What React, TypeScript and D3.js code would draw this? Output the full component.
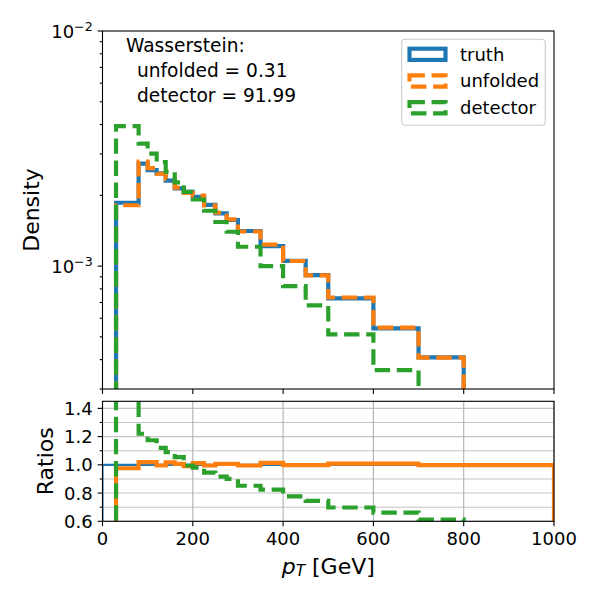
import React, { useEffect, useRef } from 'react';
import * as d3 from 'd3';

// bin edges of the pT histograms (GeV)
const binEdges = [30, 80, 100, 120, 140, 160, 180, 200, 225, 250, 275, 300, 350, 400, 450, 500, 600, 700, 800];

// densities
const truthDensity = [
  1.86e-3, 2.73e-3, 2.56e-3, 2.48e-3, 2.31e-3, 2.14e-3, 2.07e-3, 1.97e-3, 1.82e-3,
  1.675e-3, 1.57e-3, 1.41e-3, 1.216e-3, 1.053e-3, 0.915e-3, 0.729e-3, 0.543e-3, 0.409e-3,
];
const unfoldedDensity = [
  1.815e-3, 2.78e-3, 2.61e-3, 2.47e-3, 2.35e-3, 2.155e-3, 2.05e-3, 1.995e-3, 1.81e-3,
  1.687e-3, 1.58e-3, 1.403e-3, 1.233e-3, 1.051e-3, 0.913e-3, 0.735e-3, 0.547e-3, 0.408e-3,
];
const detectorDensity = [
  3.94e-3, 3.32e-3, 3.01e-3, 2.77e-3, 2.52e-3, 2.27e-3, 2.07e-3, 1.92e-3, 1.72e-3,
  1.54e-3, 1.4e-3, 1.208e-3, 1.0e-3, 0.822e-3, 0.68e-3, 0.512e-3, 0.361e-3, 0.25e-3,
];

// ratio panel uses the full range 0..1000
const ratioEdges = [0, 30, 80, 100, 120, 140, 160, 180, 200, 225, 250, 275, 300, 350, 400, 450, 500, 600, 700, 800, 1000];
const truthRatio = [1, 1, 1, 1, 1, 1, 1, 1, 1, 1, 1, 1, 1, 1, 1, 1, 1, 1, 1, 1];
const unfoldedRatio = [
  0, 0.976, 1.019, 1.019, 0.995, 1.017, 1.007, 0.99, 1.012, 0.995,
  1.007, 1.007, 0.995, 1.014, 0.998, 0.998, 1.008, 1.008, 0.998, 0.998,
];
const detectorRatio = [
  0, 2.12, 1.22, 1.174, 1.12, 1.09, 1.055, 0.995, 0.98, 0.945,
  0.917, 0.9, 0.852, 0.824, 0.776, 0.745, 0.698, 0.662, 0.612, 0.58,
];

// ticks
const xTicks = [0, 200, 400, 600, 800, 1000];
const densityMajorTicks = [1e-3, 1e-2];
const densityTickExponents = ['\u22123', '\u22122'];
const densityMinorTicks = [3e-4, 4e-4, 5e-4, 6e-4, 7e-4, 8e-4, 9e-4, 2e-3, 3e-3, 4e-3, 5e-3, 6e-3, 7e-3, 8e-3, 9e-3];
const ratioMajorTicks = [0.6, 0.8, 1.0, 1.2, 1.4];
const ratioMinorTicks = [0.7, 0.9, 1.1, 1.3];

const legendLabels = ['truth', 'unfolded', 'detector'];
const wassersteinLines = ['Wasserstein:', 'unfolded = 0.31', 'detector = 91.99'];

const BLUE = '#1f77b4';
const ORANGE = '#ff7f0e';
const GREEN = '#2ca02c';
const FONT = 'DejaVu Sans, sans-serif';

const App: React.FC = () => {
  const svgRef = useRef<SVGSVGElement>(null);

  useEffect(() => {
    if (!svgRef.current) return;
    const svg = d3.select(svgRef.current);
    svg.selectAll('*').remove();

    // panel geometry
    const left = 102.5;
    const right = 554;
    const mainTop = 31;
    const mainBottom = 389;
    const ratioTop = 401.3;
    const ratioBottom = 521.3;

    const x = d3.scaleLinear().domain([0, 1000]).range([left, right]);
    const yMain = d3.scaleLog().domain([3e-4, 1e-2]).range([mainBottom, mainTop]);
    const yRatio = d3.scaleLinear().domain([0.6, 1.45]).range([ratioBottom, ratioTop]);

    const defs = svg.append('defs');
    defs
      .append('clipPath')
      .attr('id', 'clip-main')
      .append('rect')
      .attr('x', left)
      .attr('y', mainTop)
      .attr('width', right - left)
      .attr('height', mainBottom - mainTop);
    defs
      .append('clipPath')
      .attr('id', 'clip-ratio')
      .append('rect')
      .attr('x', left)
      .attr('y', ratioTop)
      .attr('width', right - left)
      .attr('height', ratioBottom - ratioTop);

    const line = d3.line<[number, number]>();

    // outline of a step histogram, starting and ending below the panel
    const stepPoints = (
      edges: number[],
      values: number[],
      y: (v: number) => number,
      below: number
    ): [number, number][] => {
      const pts: [number, number][] = [[x(edges[0]), below]];
      values.forEach((v, i) => {
        const yy = v > 0 ? y(v) : below;
        pts.push([x(edges[i]), yy]);
        pts.push([x(edges[i + 1]), yy]);
      });
      pts.push([x(edges[edges.length - 1]), below]);
      return pts;
    };

    // ---------- ratio grid (below lines)
    const grid = svg.append('g');
    [...ratioMajorTicks, ...ratioMinorTicks].forEach((t) => {
      grid
        .append('line')
        .attr('x1', left)
        .attr('x2', right)
        .attr('y1', yRatio(t))
        .attr('y2', yRatio(t))
        .attr('stroke', '#c4c4c4')
        .attr('stroke-width', 1.1);
    });
    xTicks.forEach((t) => {
      grid
        .append('line')
        .attr('x1', x(t))
        .attr('x2', x(t))
        .attr('y1', ratioTop)
        .attr('y2', ratioBottom)
        .attr('stroke', '#b0b0b0')
        .attr('stroke-width', 1.1);
    });

    // ---------- top panel histograms
    const mainG = svg.append('g').attr('clip-path', 'url(#clip-main)');
    const mainBelow = mainBottom + 30;
    const mainSeries = [
      { values: truthDensity, color: BLUE, dash: null },
      { values: unfoldedDensity, color: ORANGE, dash: '15.4,6.7' },
      { values: detectorDensity, color: GREEN, dash: '15.4,6.7' },
    ];
    mainSeries.forEach((s) => {
      mainG
        .append('path')
        .attr('d', line(stepPoints(binEdges, s.values, (v) => yMain(v), mainBelow)))
        .attr('fill', 'none')
        .attr('stroke', s.color)
        .attr('stroke-width', 4.17)
        .attr('stroke-linejoin', 'miter')
        .attr('stroke-linecap', 'butt')
        .attr('stroke-dasharray', s.dash);
    });

    // ---------- ratio panel
    const ratioG = svg.append('g').attr('clip-path', 'url(#clip-ratio)');
    const ratioBelow = ratioBottom + 30;
    const ratioSeries = [
      { values: truthRatio, color: BLUE, dash: null, width: 2.1 },
      { values: unfoldedRatio, color: ORANGE, dash: null, width: 4.17 },
      { values: detectorRatio, color: GREEN, dash: '15.4,6.7', width: 4.17 },
    ];
    ratioSeries.forEach((s) => {
      ratioG
        .append('path')
        .attr('d', line(stepPoints(ratioEdges, s.values, (v) => yRatio(v), ratioBelow)))
        .attr('fill', 'none')
        .attr('stroke', s.color)
        .attr('stroke-width', s.width)
        .attr('stroke-linejoin', 'miter')
        .attr('stroke-linecap', 'butt')
        .attr('stroke-dasharray', s.dash);
    });

    // ---------- frames
    [
      [mainTop, mainBottom],
      [ratioTop, ratioBottom],
    ].forEach(([t, b]) => {
      svg
        .append('rect')
        .attr('x', left)
        .attr('y', t)
        .attr('width', right - left)
        .attr('height', b - t)
        .attr('fill', 'none')
        .attr('stroke', 'black')
        .attr('stroke-width', 1.1);
    });

    const ticks = svg.append('g').attr('stroke', 'black').attr('stroke-width', 1.1);

    // x ticks on both panels
    xTicks.forEach((t) => {
      [mainBottom, ratioBottom].forEach((b) => {
        ticks.append('line').attr('x1', x(t)).attr('x2', x(t)).attr('y1', b).attr('y2', b + 4.9);
      });
    });

    // y ticks top panel
    densityMajorTicks.forEach((t) => {
      ticks.append('line').attr('x1', left - 4.9).attr('x2', left).attr('y1', yMain(t)).attr('y2', yMain(t));
    });
    densityMinorTicks.forEach((t) => {
      ticks.append('line').attr('x1', left - 2.8).attr('x2', left).attr('y1', yMain(t)).attr('y2', yMain(t));
    });

    // y ticks ratio panel
    ratioMajorTicks.forEach((t) => {
      ticks.append('line').attr('x1', left - 4.9).attr('x2', left).attr('y1', yRatio(t)).attr('y2', yRatio(t));
    });
    ratioMinorTicks.forEach((t) => {
      ticks.append('line').attr('x1', left - 2.8).attr('x2', left).attr('y1', yRatio(t)).attr('y2', yRatio(t));
    });

    const labels = svg.append('g').attr('font-family', FONT).attr('fill', 'black');

    // x tick labels
    xTicks.forEach((t) => {
      labels
        .append('text')
        .attr('x', x(t))
        .attr('y', 545)
        .attr('text-anchor', 'middle')
        .attr('font-size', 18)
        .text(String(t));
    });

    // density tick labels 10^-n
    densityMajorTicks.forEach((t, i) => {
      const txt = labels
        .append('text')
        .attr('x', left - 9.8)
        .attr('y', yMain(t) + 7.3)
        .attr('text-anchor', 'end')
        .attr('font-size', 18);
      txt.append('tspan').text('10');
      txt.append('tspan').attr('dy', -7.6).attr('font-size', 12.6).text(densityTickExponents[i]);
    });

    // ratio tick labels
    ratioMajorTicks.forEach((t) => {
      labels
        .append('text')
        .attr('x', left - 9.8)
        .attr('y', yRatio(t) + 6.5)
        .attr('text-anchor', 'end')
        .attr('font-size', 18)
        .text(t.toFixed(1));
    });

    // axis labels
    labels
      .append('text')
      .attr('transform', `translate(39,${(mainTop + mainBottom) / 2}) rotate(-90)`)
      .attr('text-anchor', 'middle')
      .attr('font-size', 22)
      .text('Density');
    labels
      .append('text')
      .attr('transform', `translate(53,${(ratioTop + ratioBottom) / 2}) rotate(-90)`)
      .attr('text-anchor', 'middle')
      .attr('font-size', 22)
      .text('Ratios');

    const xl = labels
      .append('text')
      .attr('x', (left + right) / 2)
      .attr('y', 573.5)
      .attr('text-anchor', 'middle')
      .attr('font-size', 22);
    xl.append('tspan').attr('font-style', 'italic').text('p');
    xl.append('tspan').attr('font-style', 'italic').attr('font-size', 15.4).attr('dy', 2).text('T');
    xl.append('tspan').attr('dy', -2).text(' [GeV]');

    // Wasserstein annotation
    const wLines = [
      { x: 126, y: 51.7 },
      { x: 137, y: 76.7 },
      { x: 137, y: 101.7 },
    ];
    wassersteinLines.forEach((s, i) => {
      labels
        .append('text')
        .attr('x', wLines[i].x)
        .attr('y', wLines[i].y)
        .attr('font-size', 18.6)
        .text(s);
    });

    // legend
    const legend = svg.append('g');
    legend
      .append('rect')
      .attr('x', 401.7)
      .attr('y', 39.3)
      .attr('width', 143.6)
      .attr('height', 86)
      .attr('rx', 3.5)
      .attr('fill', 'white')
      .attr('fill-opacity', 0.8)
      .attr('stroke', '#cccccc')
      .attr('stroke-width', 1.1);

    const legendColors = [BLUE, ORANGE, GREEN];
    const legendDash = [null, '15.4,6.7', '15.4,6.7'];
    legendLabels.forEach((name, i) => {
      const cy = 54.3 + i * 26.7;
      legend
        .append('rect')
        .attr('x', 409.5)
        .attr('y', cy - 5.6)
        .attr('width', 36)
        .attr('height', 11.2)
        .attr('fill', 'none')
        .attr('stroke', legendColors[i])
        .attr('stroke-width', 4.17)
        .attr('stroke-dasharray', legendDash[i]);
      legend
        .append('text')
        .attr('x', 460)
        .attr('y', cy + 6.2)
        .attr('font-family', FONT)
        .attr('font-size', 18)
        .text(name);
    });
  }, []);

  return (
    <div style={{ position: 'absolute', left: 0, top: 0, background: 'white' }}>
      <svg ref={svgRef} width={600} height={600} />
    </div>
  );
};

export default App;
